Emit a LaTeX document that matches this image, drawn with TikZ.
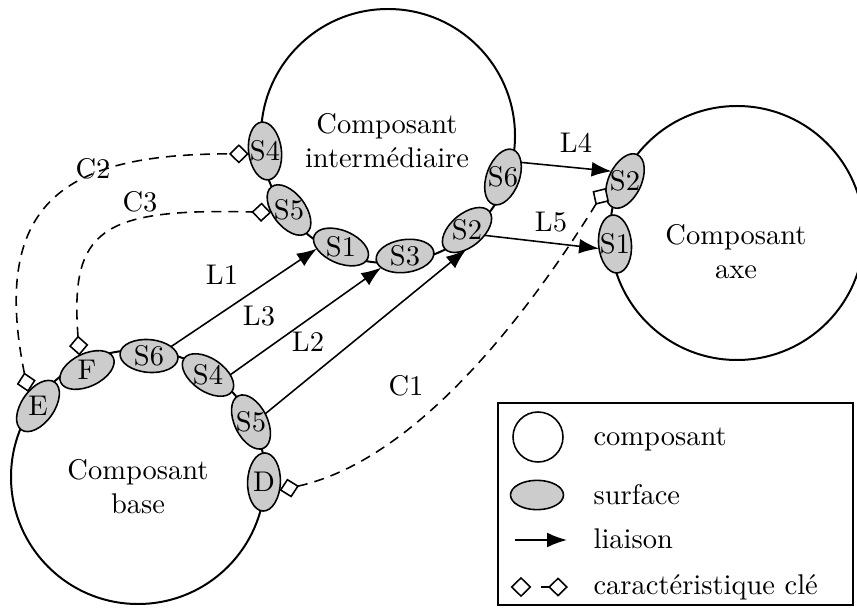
\documentclass[tikz,border=0pt]{standalone}
\usetikzlibrary{arrows.meta,shapes.geometric}
\tikzset{
  LT/.tip={Latex[length=7pt,width=5.2pt]},
  KC/.tip={Turned Square[fill=white,length=7pt,width=6.8pt]},
}
\begin{document}
\begin{tikzpicture}[x=0.351pt,y=0.351pt,
  comp/.style={line width=0.7pt},
  surf/.style={ellipse,draw,fill=black!20,line width=0.55pt,minimum width=20.4pt,minimum height=11.5pt,inner sep=0pt,outer sep=0pt},
  lbl/.style={inner sep=0pt},
  liaison/.style={line width=0.55pt,arrows=-LT},
  keych/.style={line width=0.55pt,dash pattern=on 3.5pt off 2.5pt,arrows=KC-KC},
]
\useasboundingbox (0,0) rectangle (857,609);

% components
\coordinate (I) at (388,473);
\coordinate (A) at (737,376);
\coordinate (B) at (138,132);
\draw[comp] (I) circle[radius=127];
\draw[comp] (A) circle[radius=127];
\draw[comp] (B) circle[radius=127];

\node[lbl,align=center] (tI) at (387,468) {Composant\\intermédiaire};
\node[lbl,align=center] (tA) at (736,357) {Composant\\axe};
\node[lbl,align=center] (tB) at (138,122) {Composant\\base};

% surfaces: intermediate
\node[surf,rotate=97]  (iS4) at (265,458) {};
\node[surf,rotate=127] (iS5) at (289,399) {};
\node[surf,rotate=157] (iS1) at (341,362) {};
\node[surf,rotate=188] (iS3) at (405,353) {};
\node[surf,rotate=220] (iS2) at (467,379) {};
\node[surf,rotate=250] (iS6) at (503,432) {};
% surfaces: axe
\node[surf,rotate=65] (aS2) at (625,428) {};
\node[surf,rotate=95] (aS1) at (615,365) {};
% surfaces: base
\node[surf,rotate=55]    (bE)  at (38,203) {};
\node[surf,rotate=25.5]  (bF)  at (87,239) {};
\node[surf,rotate=-5]    (bS6) at (149,253) {};
\node[surf,rotate=-34.5] (bS4) at (208,234) {};
\node[surf,rotate=-64]   (bS5) at (251,187) {};
\node[surf,rotate=-92]   (bD)  at (264,127) {};

\node[lbl] (tiS4) at (iS4) {S4};
\node[lbl] (tiS5) at (iS5) {S5};
\node[lbl] (tiS1) at (iS1) {S1};
\node[lbl] (tiS3) at (iS3) {S3};
\node[lbl] (tiS2) at (iS2) {S2};
\node[lbl] (tiS6) at (iS6) {S6};
\node[lbl] (taS2) at (aS2) {S2};
\node[lbl] (taS1) at (aS1) {S1};
\node[lbl] (tbE)  at (bE)  {E};
\node[lbl] (tbF)  at (bF)  {F};
\node[lbl] (tbS6) at (bS6) {S6};
\node[lbl] (tbS4) at (bS4) {S4};
\node[lbl] (tbS5) at (bS5) {S5};
\node[lbl] (tbD)  at (bD)  {D};

% liaisons
\draw[liaison] (bS6.28) -- (iS1.27);
\draw[liaison] (bS4.35) -- (iS3.18);
\draw[liaison] (bS5.94) -- (iS2.47);
\draw[liaison] (iS6.149) -- (aS2.79);
\draw[liaison] (iS2.123) -- (aS1.101);

\node[lbl] (L1) at (222,334) {L1};
\node[lbl] (L3) at (259,293) {L3};
\node[lbl] (L2) at (308,267) {L2};
\node[lbl] (L4) at (576,466) {L4};
\node[lbl] (L5) at (551,387) {L5};

% key characteristics
\draw[keych] (bE.70) .. controls (-12,415) and (75,455) .. (iS4.93);
\draw[keych] (bF.92) .. controls (70,379) and (100,401) .. (iS5.61);
\draw[keych] (bD.64) .. controls (420,150) and (532,302) .. (aS2.135);

\node[lbl] (C1) at (406,223) {C1};
\node[lbl] (C2) at (93,440) {C2};
\node[lbl] (C3) at (140,407) {C3};

% legend
\draw[line width=0.55pt] (498,4) rectangle (853,206);
\draw[line width=0.55pt] (538,172) circle[radius=25];
\node[surf,minimum width=18.6pt,minimum height=10.3pt] (lgS) at (537,114) {};
\coordinate (la1) at (515,69);
\coordinate (la2) at (567,69);
\draw[liaison] (la1) -- (la2);
\node[diamond,draw,line width=0.55pt,fill=white,minimum width=6.8pt,minimum height=6.6pt,inner sep=0pt] (lgD) at (521,22) {};
\coordinate (lk1) at (541,22);
\coordinate (lk2) at (568,22);
\draw[line width=0.55pt,arrows=-KC] (lk1) -- (lk2);

\node[lbl,anchor=base west] (lt1) at (593,164) {composant};
\node[lbl,anchor=base west] (lt2) at (593,105) {surface};
\node[lbl,anchor=base west] (lt3) at (593,61) {liaison};
\node[lbl,anchor=base west] (lt4) at (593,15) {caractéristique clé};
\end{tikzpicture}
\end{document}
